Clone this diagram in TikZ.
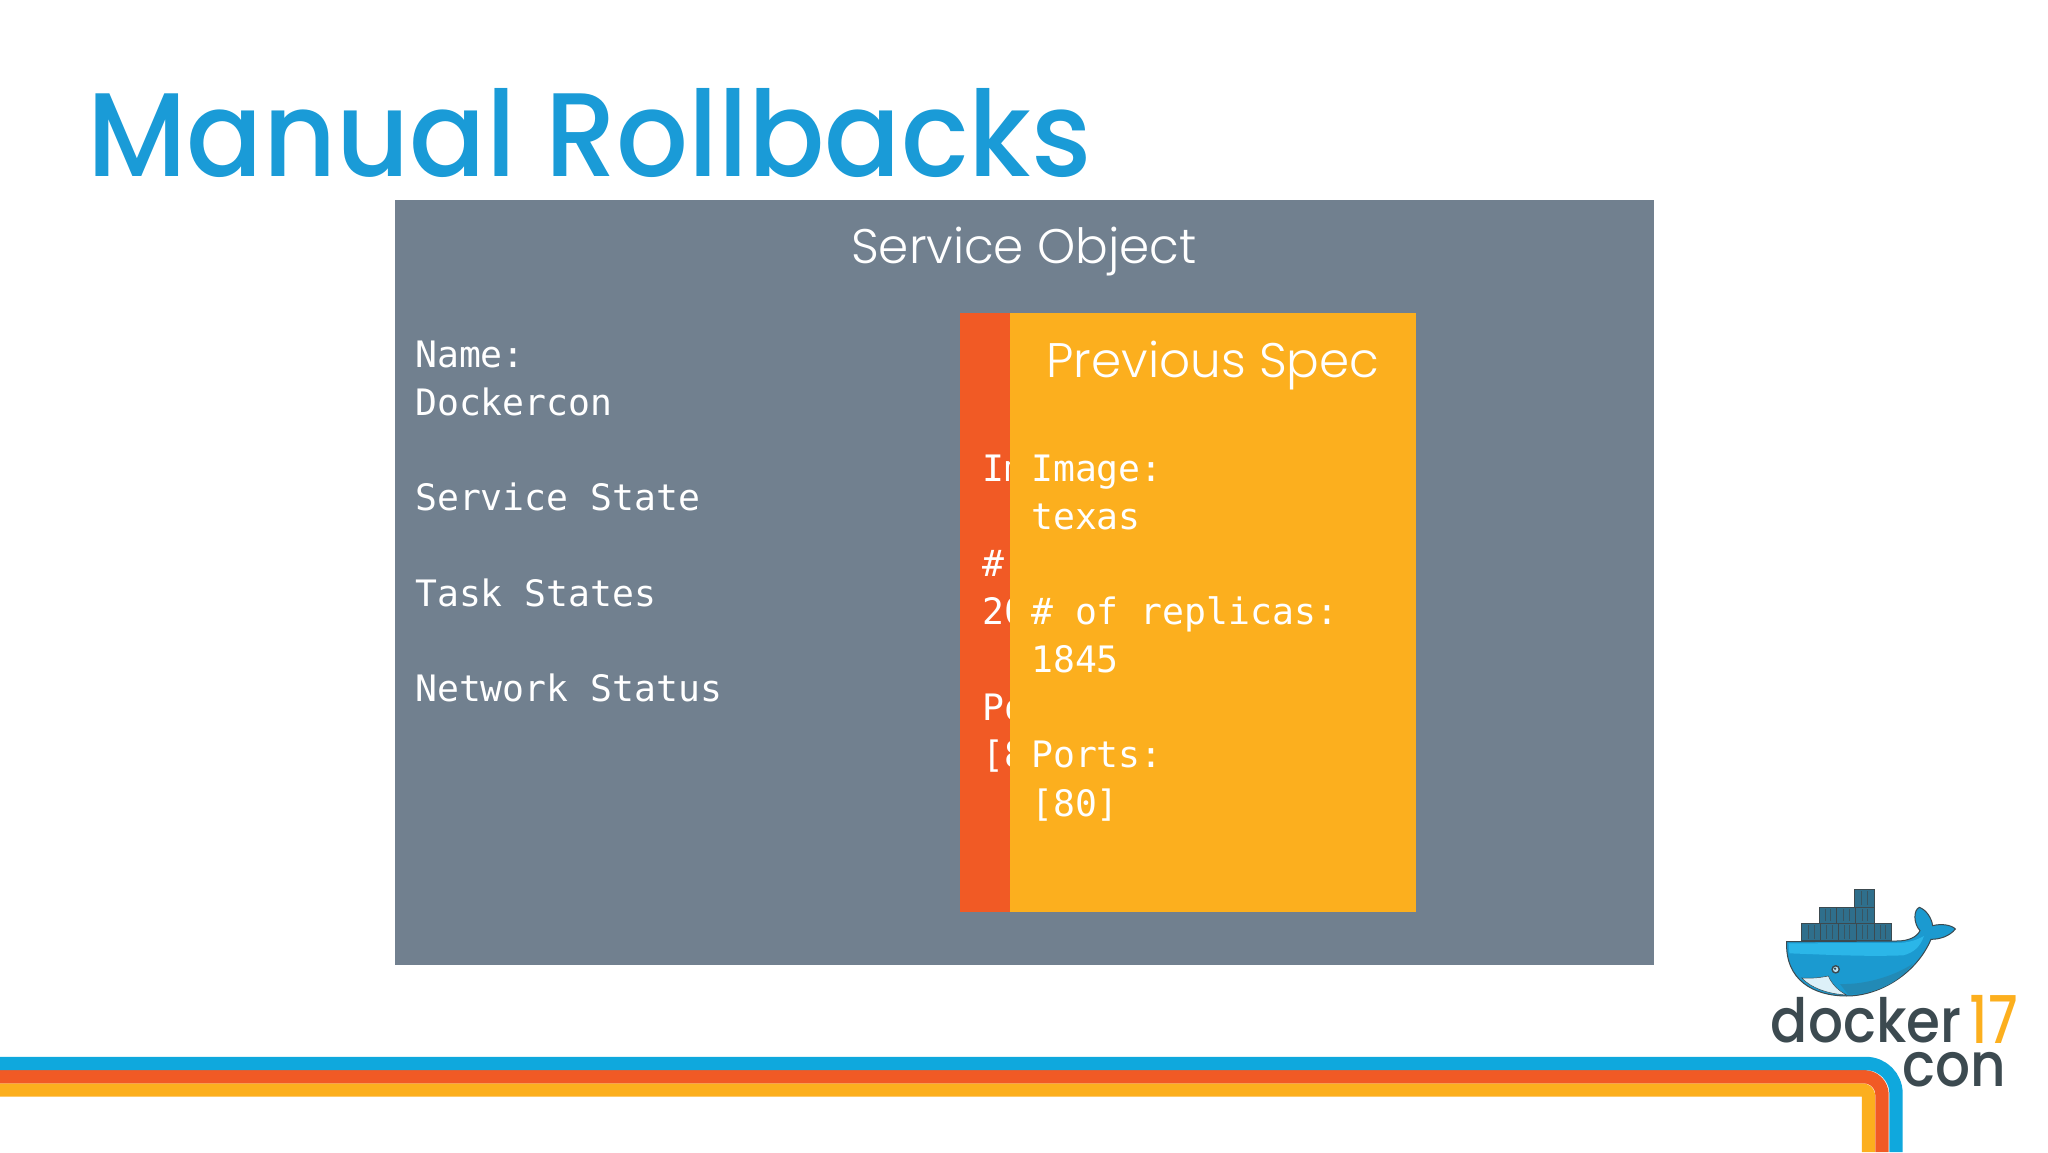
\documentclass[tikz,border=0pt]{standalone}
\usepackage{fontspec}
\setmainfont{Poppins}
\setmonofont{DejaVu Sans Mono}
\newfontfamily\lightfont{Poppins}[UprightFont=* Light]
\newfontfamily\titlefont{Poppins}[UprightFont=* Medium,FakeStretch=0.948]
\newfontfamily\logofont{Poppins}[UprightFont=* Medium,FakeStretch=0.9]
\newfontfamily\yearfont{Poppins}[UprightFont=* Medium,FakeStretch=0.8]
\definecolor{slate}{HTML}{71808F}
\definecolor{hot}{HTML}{F15A25}
\definecolor{amber}{HTML}{FCAF1E}
\definecolor{sky}{HTML}{1A9BD7}
\definecolor{band}{HTML}{0FA8DD}
\definecolor{ink}{HTML}{3C4A50}
\definecolor{boxc}{HTML}{2F6F8C}
\definecolor{whale}{HTML}{1B9AD0}
\definecolor{whaletop}{HTML}{2BB6E8}
\tikzset{
  mono/.style={anchor=base west,inner sep=0pt,text=white,font=\ttfamily\fontsize{36.4}{44}\selectfont},
  head/.style={anchor=base,inner sep=0pt,text=white,font=\lightfont\fontsize{48.5}{56}\selectfont},
  bandline/.style={line width=13.4pt,line join=round},
  crate/.style={fill=boxc,draw=ink,line width=.8pt},
  logotext/.style={inner sep=0pt,anchor=base west,text=ink}
}
\begin{document}
\begin{tikzpicture}[x=1pt,y=-1pt]
\useasboundingbox (0,0) rectangle (2048,1152);
\fill[white] (0,0) rectangle (2048,1152);
\node[anchor=base west,inner sep=0pt,text=sky,font=\titlefont\fontsize{119}{130}\selectfont] (title) at (87,176) {Manual Rollbacks};
\fill[slate] (394.5,200) rectangle (1653.5,965);
\node[head] (svc) at (1024,263) {Service Object};
\node[mono] (n1) at (415,367) {Name:};
\node[mono] (n2) at (415,415) {Dockercon};
\node[mono] (n3) at (415,510) {Service State};
\node[mono] (n4) at (415,606) {Task States};
\node[mono] (n5) at (415,701) {Network Status};
\fill[hot] (960,313) rectangle (1012,912);
\node[mono] (r1) at (982,481) {Im};
\node[mono] (r2) at (982,576) {\#};
\node[mono] (r3) at (982,624) {20};
\node[mono] (r4) at (982,720) {Po};
\node[mono] (r5) at (982,767) {[8};
\fill[amber] (1010,313) rectangle (1416,912);
\node[head] (prev) at (1213,377) {Previous Spec};
\node[mono] (y1) at (1031,481) {Image:};
\node[mono] (y2) at (1031,529) {texas};
\node[mono] (y3) at (1031,624) {\# of replicas:};
\node[mono] (y4) at (1031,672) {1845};
\node[mono] (y5) at (1031,767) {Ports:};
\node[mono] (y6) at (1031,816) {[80]};
% bands
\draw[bandline,amber,rounded corners=6pt] (0,1090) -- (1868.5,1090) -- (1868.5,1152);
\draw[bandline,hot,rounded corners=18pt] (0,1076.7) -- (1882,1076.7) -- (1882,1152);
\draw[bandline,band,rounded corners=30pt] (0,1063.5) -- (1896,1063.5) -- (1896,1152);
% logo
\begin{scope}[shift={(1700,860)},x=.3333pt,y=-.3333pt]
\foreach \a/\b/\c/\d in {462/88/522/142,358/142/410/190,410/142/466/190,466/142/522/190,305/190/362/242,362/190/414/242,414/190/468/242,468/190/522/242,522/190/575/242}{
  \draw[crate] (\a,\b) rectangle (\c,\d);
  \draw[ink!70!boxc,line width=.5pt] ({\a+(\c-\a)*.35},{\b+6}) -- ({\a+(\c-\a)*.35},{\d-6}) ({\a+(\c-\a)*.65},{\b+6}) -- ({\a+(\c-\a)*.65},{\d-6});
}
\draw[ink,line width=1pt,fill=whale]
  (260,245) -- (590,243) .. controls (625,243) and (650,232) .. (660,212)
  .. controls (640,190) and (640,150) .. (658,142)
  .. controls (680,150) and (695,175) .. (698,197)
  .. controls (725,190) and (755,195) .. (766,207)
  .. controls (750,228) and (720,238) .. (693,238)
  .. controls (650,340) and (540,408) .. (440,408)
  .. controls (340,408) and (255,360) .. (260,245) -- cycle;
\fill[whaletop] (266,250) -- (590,249) .. controls (625,249) and (650,240) .. (672,228)
  .. controls (660,262) and (640,278) .. (610,286)
  .. controls (500,290) and (400,285) .. (268,280) -- cycle;
\fill[whale!80!ink] (420,372) .. controls (500,375) and (590,345) .. (640,310)
  .. controls (590,375) and (520,402) .. (445,404) -- cycle;
\fill[white!85!whale,draw=ink,line width=.5pt] (305,354) .. controls (340,356) and (365,352) .. (385,348)
  .. controls (395,372) and (415,392) .. (440,405)
  .. controls (385,402) and (335,385) .. (305,354) -- cycle;
\fill[ink] (407,328) circle (13);
\fill[white!70!whale] (407,328) circle (8);
\fill[ink] (405,326) circle (4);
\node[logotext,font=\logofont\fontsize{61}{62}\selectfont] (dk) at (212,547) {docker};
\node[inner sep=0pt,anchor=base west,text=amber,font=\yearfont\fontsize{66}{66}\selectfont] (yr) at (808,552) {17};
\node[logotext,font=\logofont\fontsize{61}{62}\selectfont] (cn) at (606,680) {con};
\end{scope}
\end{tikzpicture}
\end{document}
